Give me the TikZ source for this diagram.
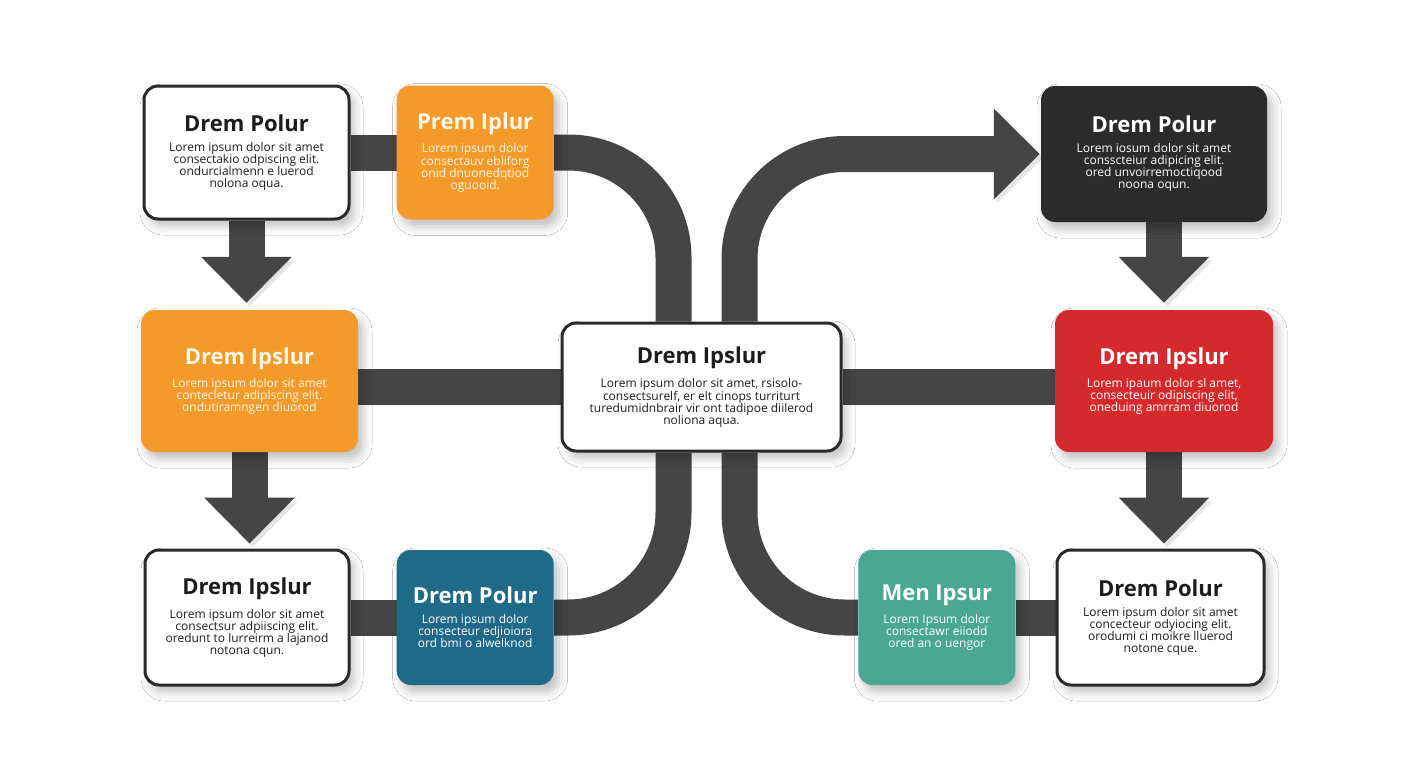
\documentclass[tikz,border=0pt]{standalone}
\usepackage{fontspec}
\setmainfont{Open Sans}
\usetikzlibrary{positioning,arrows.meta,shadows.blur,backgrounds}

\definecolor{wire}{HTML}{454545}
\definecolor{ink}{HTML}{1C1C1C}
\definecolor{edge}{HTML}{2A2A2A}
\definecolor{amber}{HTML}{F39A2B}
\definecolor{petrol}{HTML}{1F6A88}
\definecolor{jade}{HTML}{4AA892}
\definecolor{crimson}{HTML}{D42A2E}
\definecolor{coal}{HTML}{2B2B2B}
\definecolor{cream}{HTML}{FFF6E8}

\newcommand{\cardtitle}[1]{{\fontsize{22}{26}\selectfont\bfseries #1}}

\begin{document}
\begin{tikzpicture}[
    x=1pt, y=-1pt,
    card/.style={rounded corners=14pt, align=center, inner sep=0pt, font=\fontsize{12}{12}\selectfont,
      blur shadow={shadow xshift=5pt, shadow yshift=-7pt, shadow blur radius=9pt, shadow opacity=25}},
    plain/.style={card, fill=white, draw=edge, line width=3pt, text=ink},
    tinted/.style={card, fill=#1, text=white},
    wire/.style={draw=wire, line width=36pt,
      preaction={draw=black, opacity=0.10, transform canvas={shift={(3pt,-4pt)}}}},
    bigtip/.style={-{Triangle[width=88pt, length=46pt]}}
  ]
  \useasboundingbox (0,0) rectangle (1408,768);

  % left column
  \node[plain, minimum width=205pt, minimum height=133pt] (polurA) at (246.5,152.5) {
    \cardtitle{Drem Polur}\\[8pt]
    Lorem ipsum dolor sit amet\\
    consectakio odpiscing elit.\\
    ondurcialmenn e luerod\\
    nolona oqua.
  };
  \node[tinted=amber, text=cream, minimum width=157pt, minimum height=134pt, right=46pt of polurA] (iplur) {
    \cardtitle{Prem Iplur}\\[8pt]
    Lorem ipsum dolor\\
    consectauv ebliforg\\
    onid dnuonedqtiod\\
    oguooid.
  };
  \node[tinted=amber, text=cream, minimum width=217pt, minimum height=142pt] (ipslurC) at (249.5,381) {
    \cardtitle{Drem Ipslur}\\[8pt]
    Lorem ipsum dolor sit amet\\
    contecletur adiplscing elit.\\
    ondutiramngen diuorod
  };
  \node[plain, minimum width=204pt, minimum height=135pt] (ipslurD) at (247,617.5) {
    \cardtitle{Drem Ipslur}\\[8pt]
    Lorem ipsum dolor sit amet\\
    consectsur adpiiscing elit.\\
    oredunt to lurreirm a lajanod\\
    notona cqun.
  };
  \node[tinted=petrol, minimum width=157pt, minimum height=135pt, right=46pt of ipslurD] (polurE) {
    \cardtitle{Drem Polur}\\[8pt]
    Lorem ipsum dolor\\
    consecteur edjioiora\\
    ord bmi o alwelknod
  };

  % hub
  \node[plain, minimum width=279pt, minimum height=128pt] (hub) at (701.5,387) {
    \cardtitle{Drem Ipslur}\\[8pt]
    Lorem ipsum dolor sit amet, rsisolo-\\
    consectsurelf, er elt cinops turriturt\\
    turedumidnbrair vir ont tadipoe diilerod\\
    noliona aqua.
  };

  % right column
  \node[tinted=coal, minimum width=226pt, minimum height=136pt] (polurF) at (1154,154) {
    \cardtitle{Drem Polur}\\[8pt]
    Lorem iosum dolor sit amet\\
    consscteiur adipicing elit.\\
    ored unvoirremoctiqood\\
    noona oqun.
  };
  \node[tinted=crimson, minimum width=218pt, minimum height=142pt] (ipslurG) at (1164,381) {
    \cardtitle{Drem Ipslur}\\[8pt]
    Lorem ipaum dolor sl amet,\\
    consecteuir odipiscing elit,\\
    oneduing amrram diuorod
  };
  \node[plain, minimum width=207pt, minimum height=135pt] (polurI) at (1160.5,617.5) {
    \cardtitle{Drem Polur}\\[8pt]
    Lorem ipsum dolor sit amet\\
    concecteur odyiocing elit.\\
    orodumi ci moikre lluerod\\
    notone cque.
  };
  \node[tinted=jade, minimum width=157pt, minimum height=135pt, left=40pt of polurI] (ipsur) {
    \cardtitle{Men Ipsur}\\[8pt]
    Lorem Ipsum dolor\\
    consectawr eiiodd\\
    ored an o uengor
  };

  % connectors behind the cards
  \begin{scope}[on background layer]
    \fill[white] (0,0) rectangle (1408,768);
    \draw[wire] (polurA.east) -- (iplur.west);
    \draw[wire] (ipslurD.east) -- (polurE.west);
    \draw[wire] (ipsur.east) -- (polurI.west);
    \draw[wire] (hub.west) -- (hub.west -| ipslurC.east);
    \draw[wire] (hub.east) -- (hub.east -| ipslurG.west);
    \draw[wire, rounded corners=105pt] (iplur.east) -| ([xshift=-28pt]hub.north);
    \draw[wire, rounded corners=105pt] ([xshift=-28pt]hub.south) |- (polurE.east);
    \draw[wire, rounded corners=105pt] ([xshift=38pt]hub.south) |- (ipsur.west);
    \draw[wire, bigtip, rounded corners=105pt, shorten >=1pt] ([xshift=38pt]hub.north) |- (polurF.west);
    \draw[wire, bigtip, shorten >=7pt] (polurA.south) -- (polurA.south |- ipslurC.north);
    \draw[wire, bigtip, shorten >=5pt] (ipslurC.south) -- (ipslurC.south |- ipslurD.north);
    \draw[wire, bigtip, shorten >=7pt] (ipslurG.north |- polurF.south) -- (ipslurG.north);
    \draw[wire, bigtip, shorten >=5pt] (ipslurG.south) -- (ipslurG.south |- polurI.north);
  \end{scope}
\end{tikzpicture}
\end{document}
